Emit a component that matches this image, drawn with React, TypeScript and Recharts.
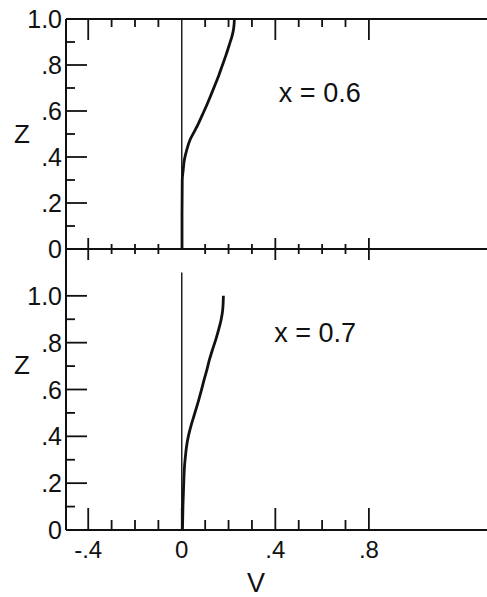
import React from 'react';
import { LineChart, Line, XAxis, YAxis, ReferenceLine, ReferenceDot } from 'recharts';

// Panel x = 0.6 (top)
const topZ = [0, 0.15, 0.3, 0.343, 0.387, 0.43, 0.474, 0.517, 0.539, 0.583, 0.626, 0.67, 0.713, 0.757, 0.8, 0.843, 0.887, 0.93, 0.96, 1.0];
const topV = [0.001, 0.001, 0.002, 0.006, 0.011, 0.021, 0.035, 0.057, 0.068, 0.088, 0.107, 0.125, 0.142, 0.159, 0.174, 0.189, 0.203, 0.216, 0.222, 0.225];
// Panel x = 0.7 (bottom)
const bottomZ = [0, 0.104, 0.19, 0.276, 0.319, 0.361, 0.404, 0.447, 0.49, 0.533, 0.554, 0.597, 0.64, 0.683, 0.726, 0.769, 0.812, 0.854, 0.897, 0.94, 1.0];
const bottomV = [0.003, 0.005, 0.008, 0.012, 0.016, 0.021, 0.029, 0.04, 0.053, 0.066, 0.072, 0.084, 0.095, 0.107, 0.118, 0.131, 0.145, 0.157, 0.168, 0.175, 0.178];

const xTicks = [-0.4, -0.3, -0.2, -0.1, 0, 0.1, 0.2, 0.3, 0.4, 0.5, 0.6, 0.7, 0.8];
const xLabelTicks = [-0.4, 0, 0.4, 0.8];
const xTickLabels = ['-.4', '0', '.4', '.8'];
const yTicks = [0, 0.1, 0.2, 0.3, 0.4, 0.5, 0.6, 0.7, 0.8, 0.9, 1.0];
const yLabelTicks = [0, 0.2, 0.4, 0.6, 0.8, 1.0];
const yTickLabels = ['0', '.2', '.4', '.6', '.8', '1.0'];
const panelTitles = ['x = 0.6', 'x = 0.7'];
const titleAt = [
  { v: 0.59, z: 0.683 },
  { v: 0.57, z: 0.846 },
];
const xDomain: [number, number] = [-0.495, 1.305];

const topData = topZ.map((z, i) => ({ z, v: topV[i] }));
const bottomData = bottomZ.map((z, i) => ({ z, v: bottomV[i] }));

const INK = '#111';
const FONT = 'Liberation Sans, Arial, sans-serif';

const isMajorX = (v: number) => Math.round(v * 10) % 4 === 0;
const isMajorY = (v: number) => Math.round(v * 10) % 2 === 0;

function TopTick(props: any) {
  const { x, y, payload } = props;
  const v = payload.value;
  if (v === 0) return <g />;
  const len = isMajorX(v) ? 21 : 8;
  return <line x1={x} y1={y} x2={x} y2={y + len} stroke={INK} strokeWidth={1.8} />;
}

function MidTick(props: any) {
  const { x, y, payload } = props;
  const v = payload.value;
  if (v === 0) return <g />;
  const len = isMajorX(v) ? 11 : 5;
  return <line x1={x} y1={y - len} x2={x} y2={y + len} stroke={INK} strokeWidth={1.8} />;
}

function BottomTick(props: any) {
  const { x, y, payload } = props;
  const v = payload.value;
  const len = isMajorX(v) ? 22 : 10;
  const idx = xLabelTicks.indexOf(v);
  return (
    <g>
      <line x1={x} y1={y} x2={x} y2={y - len} stroke={INK} strokeWidth={1.8} />
      {idx >= 0 && (
        <text x={x} y={y + 28} textAnchor="middle" fontSize={24} fontFamily={FONT} fill={INK}>
          {xTickLabels[idx]}
        </text>
      )}
    </g>
  );
}

function LeftTick(props: any) {
  const { x, y, payload } = props;
  const v = payload.value;
  const len = isMajorY(v) ? 21 : 9;
  const idx = yLabelTicks.indexOf(v);
  return (
    <g>
      <line x1={x} y1={y} x2={x + len} y2={y} stroke={INK} strokeWidth={1.8} />
      {idx >= 0 && (
        <text x={x - 4} y={y + 9} textAnchor="end" fontSize={25} fontFamily={FONT} fill={INK}>
          {yTickLabels[idx]}
        </text>
      )}
    </g>
  );
}

function RightTick(props: any) {
  const { x, y, payload } = props;
  const v = payload.value;
  if (v === 0 || v === 1.0) return <g />;
  const len = isMajorY(v) ? 22 : 10;
  return <line x1={x} y1={y} x2={x - len} y2={y} stroke={INK} strokeWidth={1.8} />;
}

function RightTickB(props: any) {
  const { x, y, payload } = props;
  const v = payload.value;
  if (v === 0) return <g />;
  const len = isMajorY(v) ? 22 : 10;
  return <line x1={x} y1={y} x2={x - len} y2={y} stroke={INK} strokeWidth={1.8} />;
}

const zLabel = (frac: number) => (props: any) => {
  const vb = props.viewBox || { x: 0, y: 0, width: 0, height: 0 };
  return (
    <text x={vb.x + 14} y={vb.y + vb.height * frac + 9} fontSize={26} fontFamily={FONT} fill={INK}>
      Z
    </text>
  );
};

const vLabel = (props: any) => {
  const vb = props.viewBox || { x: 0, y: 0, width: 0, height: 0 };
  return (
    <text x={vb.x + 190} y={vb.y + 62} textAnchor="middle" fontSize={27} fontFamily={FONT} fill={INK}>
      V
    </text>
  );
};

const titleLabel = (text: string) => (props: any) => {
  const vb = props.viewBox || { x: 0, y: 0 };
  const cx = vb.x + (vb.width || 0) / 2;
  const cy = vb.y + (vb.height || 0) / 2;
  return (
    <text x={cx} y={cy + 10} textAnchor="middle" fontSize={27} fontFamily={FONT} fill={INK}>
      {text}
    </text>
  );
};

export default function App() {
  return (
    <div style={{ position: 'absolute', left: 0, top: 0, width: 487, height: 597, background: '#fff' }}>
      <div style={{ position: 'absolute', left: 0, top: 0 }}>
        <LineChart width={487} height={270} data={topData} margin={{ top: 0, right: 0, bottom: 0, left: 0 }}>
          <XAxis
            dataKey="v"
            type="number"
            domain={xDomain}
            allowDataOverflow
            ticks={xTicks}
            interval={0}
            height={21}
            tickSize={0}
            tickMargin={0}
            axisLine={{ stroke: INK, strokeWidth: 2 }}
            tickLine={false}
            tick={(p: any) => <MidTick {...p} />}
          />
          <XAxis
            xAxisId="top"
            orientation="top"
            dataKey="v"
            type="number"
            domain={xDomain}
            allowDataOverflow
            ticks={xTicks}
            interval={0}
            height={19}
            tickSize={0}
            tickMargin={0}
            axisLine={{ stroke: INK, strokeWidth: 2 }}
            tickLine={false}
            tick={(p: any) => <TopTick {...p} />}
          />
          <YAxis
            type="number"
            domain={[0, 1]}
            allowDataOverflow
            ticks={yTicks}
            interval={0}
            width={66}
            tickSize={0}
            tickMargin={0}
            axisLine={{ stroke: INK, strokeWidth: 2 }}
            tickLine={false}
            tick={(p: any) => <LeftTick {...p} />}
            label={{ content: zLabel(0.5) }}
          />
          <YAxis
            yAxisId="right"
            orientation="right"
            type="number"
            domain={[0, 1]}
            allowDataOverflow
            ticks={yTicks}
            interval={0}
            width={0}
            tickSize={0}
            tickMargin={0}
            axisLine={false}
            tickLine={false}
            tick={(p: any) => <RightTick {...p} />}
          />
          <ReferenceLine x={0} stroke={INK} strokeWidth={1.4} />
          <ReferenceDot
            x={titleAt[0].v}
            y={titleAt[0].z}
            r={0}
            fill="none"
            stroke="none"
            label={{ content: titleLabel(panelTitles[0]) }}
          />
          <Line
            dataKey="z"
            type="monotoneY"
            stroke={INK}
            strokeWidth={2.8}
            dot={false}
            isAnimationActive={false}
          />
        </LineChart>
      </div>
      <div style={{ position: 'absolute', left: 0, top: 0 }}>
        <LineChart width={487} height={597} data={bottomData} margin={{ top: 249, right: 0, bottom: 0, left: 0 }}>
          <XAxis
            dataKey="v"
            type="number"
            domain={xDomain}
            allowDataOverflow
            ticks={xTicks}
            interval={0}
            height={67}
            tickSize={0}
            tickMargin={0}
            axisLine={{ stroke: INK, strokeWidth: 2 }}
            tickLine={false}
            tick={(p: any) => <BottomTick {...p} />}
            label={{ content: vLabel }}
          />
          <YAxis
            type="number"
            domain={[0, 1.2]}
            allowDataOverflow
            ticks={yTicks}
            interval={0}
            width={66}
            tickSize={0}
            tickMargin={0}
            axisLine={{ stroke: INK, strokeWidth: 2 }}
            tickLine={false}
            tick={(p: any) => <LeftTick {...p} />}
            label={{ content: zLabel(0.413) }}
          />
          <YAxis
            yAxisId="right"
            orientation="right"
            type="number"
            domain={[0, 1.2]}
            allowDataOverflow
            ticks={yTicks}
            interval={0}
            width={0}
            tickSize={0}
            tickMargin={0}
            axisLine={false}
            tickLine={false}
            tick={(p: any) => <RightTickB {...p} />}
          />
          <ReferenceLine
            segment={[
              { x: 0, y: 0 },
              { x: 0, y: 1.1 },
            ]}
            stroke={INK}
            strokeWidth={1.4}
          />
          <ReferenceDot
            x={titleAt[1].v}
            y={titleAt[1].z}
            r={0}
            fill="none"
            stroke="none"
            label={{ content: titleLabel(panelTitles[1]) }}
          />
          <Line
            dataKey="z"
            type="monotoneY"
            stroke={INK}
            strokeWidth={2.8}
            dot={false}
            isAnimationActive={false}
          />
        </LineChart>
      </div>
    </div>
  );
}
